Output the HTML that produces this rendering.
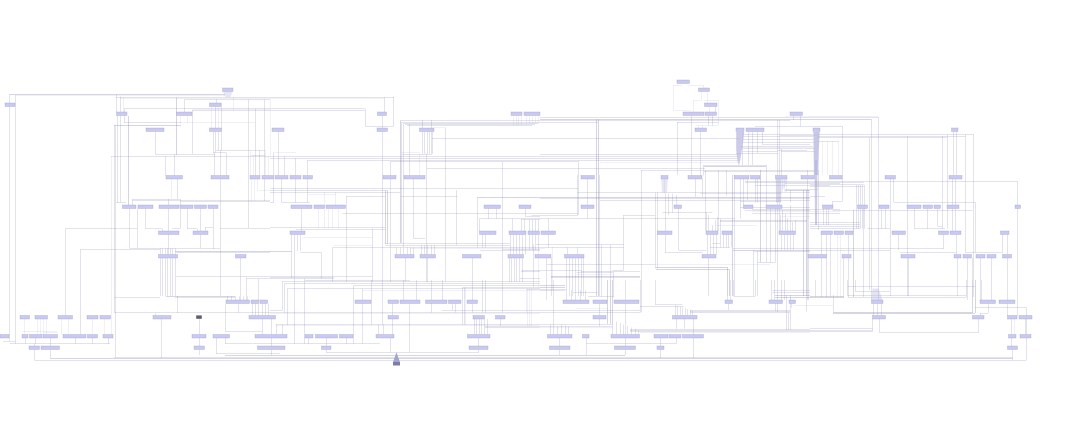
<!DOCTYPE html><html><head><meta charset="utf-8"><title>diagram</title><style>html,body{margin:0;padding:0;background:#fff;font-family:"Liberation Sans",sans-serif}svg{display:block}</style></head><body>
<svg width="1080" height="422" viewBox="0 0 1080 422">
<rect width="1080" height="422" fill="#ffffff"/>
<path d="M15.5 95.5L225 95.5M123.5 97.5L123.5 112M120 98.5L384 98.5M181 122.5L255 122.5M673.75 110.5L690 110.5M192.5 109.5L270 109.5M696 125.5L718 125.5M111.5 156L111.5 334.5M180.5 115.5L180.5 122.8M187.5 115.5L187.5 122.8M211.5 106.5L211.5 128M218.5 106.5L218.5 128M273.75 152.5L296 152.5M401 152.5L420 152.5M233.5 97L233.5 110M513.5 115.5L513.5 125.3M516.5 115.5L516.5 125.3M518.5 115.5L518.5 125.3M521.5 115.5L521.5 125.3M526.5 115.5L526.5 123.7M526.5 289.5L526.5 312.8M529.5 115.5L529.5 123.7M529.5 288.75L529.5 326.25M532.5 115.5L532.5 123.7M535.5 115.5L535.5 123.7M538.5 115.5L538.5 123.7M538.5 250L538.5 287M434 127.5L445 127.5M673.5 85L673.5 110.5M673.75 85.5L682 85.5M687.5 85.5L703.75 85.5M703.5 85L703.5 88M701.5 92L701.5 100.5M693 100.5L701.25 100.5M704 100.5L718 100.5M693.5 100.5L693.5 112M707.5 92L707.5 103M718.5 100L718.5 125.5M709.5 106.5L709.5 112M698.5 125.5L698.5 128M702.5 125.5L702.5 128M813 142.5L815 142.5M822.5 141.25L822.5 175.5M827.5 141.25L827.5 175.5M832.5 141.25L832.5 175.5M838.5 141.25L838.5 175.5M171.5 179L171.5 199M410 248.5L545 248.5M251.5 179L251.5 201M254.5 179L254.5 201M257.5 179L257.5 190M257.5 190.5L270 190.5M318.5 208.5L318.5 228.3M324.5 191.7L324.5 228.3M328.5 208.5L328.5 228.3M332.5 208.5L332.5 228.3M338.5 208.5L338.5 228.3M335.5 191.7L335.5 205M307.5 194.5L335.8 194.5M333.75 245.5L372.5 245.5M302.5 237.5L372.5 237.5M782 216.5L810 216.5M664.5 179L664.5 193.75M782.5 179L782.5 192M784.5 179L784.5 192M786.5 179L786.5 192M715.8 225.5L756.7 225.5M655 264.5L770 264.5M837.5 234.5L837.5 297M840.5 234.5L840.5 297M24.5 319L24.5 334.5M37.5 319L37.5 334.5M40.5 319L40.5 334.5M43.5 319L43.5 334.5M46.5 319L46.5 334.5M61.5 319L61.5 334.5M68.5 319L68.5 334.5M92.5 319L92.5 334.5M22 331.5L57 331.5M44 332.5L58 332.5M640 332.5L810 332.5M265.5 150.5L265.5 175.5M268.5 155.8L268.5 175.5M246.5 276.25L246.5 278.3M362.5 290.5L540 290.5M276 325.5L540 325.5M465.5 287.5L465.5 324.5M527.5 288.75L527.5 326.25M531.5 288.75L531.5 326.25M540 327.5L612.5 327.5M597 292.5L598 292.5M576 308.5L608 308.5M270 313.5L540 313.5M1014.5 319L1014.5 334.5M250.5 150.5L250.5 175.5M253.5 155.8L253.5 175.5M419.5 154L419.5 175.5M741 147.5L813 147.5M785 116.5L878 116.5M752 211.5L840 211.5M793.3 305.5L833 305.5M576.7 274.5L613.3 274.5M552.5 246.7L552.5 290M600 162.5L738 162.5M270.5 99.5L270.5 155.8" stroke="#8080b4" stroke-opacity="0.12" stroke-width="1" fill="none"/>
<path d="M9.5 94.3L9.5 341M15.5 95L15.5 343.75M116.5 94.5L116.5 112M120.5 96.5L120.5 112M120.5 115.5L120.5 202.5M116 97.5L394 97.5M184.5 99.5L270 99.5M184.5 99.5L184.5 112M124 108.5L365 108.5M124.5 108.75L124.5 122.8M124 122.5L181 122.5M401.7 122.5L598 122.5M677 122.5L718.75 122.5M192.5 110.5L365 110.5M407 125.5L532 125.5M114.5 125.5L114.5 313M115.5 125.5L115.5 357.5M117.5 115.5L117.5 202.5M155.5 131.5L155.5 154M155.5 313L155.5 315.5M155 154.5L215 154.5M401.7 154.5L431.7 154.5M540 154.5L738 154.5M192.5 110L192.5 154M180.5 199L180.5 228.75M187.5 208.5L187.5 228.75M215.5 106.5L215.5 128M215.5 131.5L215.5 152.5M218.5 131.5L218.5 150.5M221.5 103L221.5 150.5M213.5 131.5L213.5 152.5M213.5 208.5L213.5 249M216.5 99L216.5 103M216.5 338L216.5 353.75M216 150.5L265 150.5M777.5 150.5L807 150.5M213 152.5L226 152.5M248.5 99.5L248.5 228M255.5 108.75L255.5 175.5M255.5 303.5L255.5 315.5M264.5 99.5L264.5 201M259.5 150.5L259.5 175.5M111 156.5L738 156.5M165.5 156.25L165.5 175.5M165.5 248.25L165.5 254.5M165.5 258L165.5 296M174.5 154L174.5 175.5M226.5 152.5L226.5 175.5M393.5 97.1L393.5 126M365 126.5L393.75 126.5M755 126.5L842.5 126.5M365.5 108.75L365.5 126M384.5 97.1L384.5 112M382.5 115.5L382.5 128M382.5 131.5L382.5 324.5M278.5 131.5L278.5 175.5M400 120.5L790 120.5M403.7 123.5L538 123.5M405 124.5L535 124.5M400.5 247.5L400.5 254.5M401.5 122.3L401.5 243M403.5 123.5L403.5 247M403.5 247.5L403.5 254.5M403.5 280L403.5 300M513.5 234.5L513.5 254.5M516.5 234.5L516.5 254.5M516.5 258L516.5 282M521.5 219.5L521.5 231M529.5 219.5L529.5 231M529.5 234.5L529.5 250M532.5 219.5L532.5 231M532.5 234.5L532.5 250M535.5 219.5L535.5 231M535.5 234.5L535.5 250M538.5 219.5L538.5 231M538.5 234.5L538.5 250M422.5 120L422.5 128M422.5 131.5L422.5 154M424.5 131.5L424.5 154M424.5 245.3L424.5 254.5M427.5 131.5L427.5 154M427.5 245.3L427.5 254.5M427.5 258L427.5 282M429.5 131.5L429.5 154M432.5 131.5L432.5 154M431.5 120L431.5 128M431.5 131.5L431.5 154M431.5 245.3L431.5 254.5M431.5 280L431.5 312.5M426.5 154L426.5 282M445.5 127.5L445.5 282M431.75 138.5L740 138.5M270 158.5L738 158.5M307.5 160.5L738 160.5M390 161.5L578.75 161.5M273.5 152.5L273.5 202.5M284.5 156.25L284.5 175.5M284.5 283.3L284.5 312.8M295.5 158L295.5 175.5M295.5 179L295.5 202.5M307.5 160L307.5 175.5M307.5 179L307.5 202.5M502.5 161.75L502.5 312.5M390.5 161.75L390.5 282M390.5 338L390.5 352.5M426.75 168.5L705 168.5M540 117.5L878 117.5M578.5 161.7L578.5 215M578.5 258L578.5 296M641 170.5L815 170.5M704 171.5L815 171.5M677.5 122L677.5 175M677.5 305.8L677.5 315.5M691.5 116L691.5 175.5M700.5 131.5L700.5 175.5M703.5 165L703.5 175.5M693.5 319L693.5 358M707.5 234.5L707.5 254.5M718.5 170L718.5 231M708.5 115.5L708.5 125.5M708.5 215L708.5 231M708.5 258L708.5 296M712.5 115.5L712.5 125.5M712.5 225L712.5 231M715.5 106.5L715.5 112M715.5 220L715.5 231M702.5 179L702.5 197M793.5 116L793.5 120M793.5 234.5L793.5 250M800.5 116L800.5 126.25M777.5 120L777.5 312M779.5 120L779.5 231M748.5 131.5L748.5 165M752.5 131.5L752.5 165M757.5 131.5L757.5 153M757.5 179L757.5 202.5M757.5 251.25L757.5 296M762.5 131.5L762.5 144.5M762.5 144.5L810 144.5M742.5 148.5L815 148.5M742.5 151.5L777.5 151.5M781 151.5L815 151.5M736 153.5L778 153.5M742.5 131.5L742.5 165M703.75 165.5L766 165.5M766.5 165L766.5 205M766.5 208.5L766.5 262.5M780 135.5L817 135.5M743 142.5L813 142.5M781.5 148.75L781.5 175.5M781.5 234.5L781.5 250M781.5 280L781.5 300M878.5 117L878.5 300M871.5 119.5L871.5 300M842.5 126.25L842.5 201.25M743 134.5L813 134.5M817 134.5L974 134.5M743 136.5L813 136.5M817 136.5L965.5 136.5M817 137.5L947 137.5M869.5 137.5L869.5 290M907.5 136.25L907.5 296M942.5 136.25L942.5 228.75M947.5 134.5L947.5 228.75M953.5 131.5L953.5 175.5M956.5 131.5L956.5 175.5M956.5 234.5L956.5 254.5M965.5 134.5L965.5 252.5M973.5 134.5L973.5 297M817 141.5L838.75 141.5M832.5 201.25L832.5 205M815.5 280L815.5 296.25M116 202.5L126 202.5M270 202.5L273.75 202.5M281.75 202.5L310 202.5M893.75 202.5L975 202.5M132.5 199.5L180 199.5M132.5 200.5L270 200.5M600 200.5L810 200.5M180 201.5L270 201.5M740 201.5L781 201.5M832.5 201.5L842.5 201.5M132.5 199L132.5 205M177.5 179L177.5 199M177.5 296L177.5 313M220.5 150.5L220.5 175.5M220.5 179L220.5 296M168.5 199L168.5 254.5M129.5 208.5L129.5 248.25M137.5 208.5L137.5 248.25M129.5 248.5L220 248.5M733 248.5L943.75 248.5M65.5 228.5L137 228.5M145.5 228.5L162 228.5M172 228.5L180 228.5M187 228.5L197 228.5M220 228.5L270 228.5M810 228.5L860 228.5M867.5 228.5L890 228.5M914.5 228.5L945 228.5M65.5 228.75L65.5 315.5M80.5 249.5L160 249.5M502.5 249.5L540 249.5M80.5 249.25L80.5 334.5M145.5 208.5L145.5 228.75M162.5 228.75L162.5 231M162.5 248.25L162.5 254.5M162.5 258L162.5 296M197.5 228.75L197.5 231M200.5 208.5L200.5 231M200.5 234.5L200.5 248.25M205 227.5L213 227.5M270 227.5L385 227.5M205.5 227.5L205.5 231M270 190.5L387.5 190.5M753.75 251.5L810 251.5M176 252.5L270 252.5M300 252.5L321.25 252.5M665 252.5L702.5 252.5M900 252.5L956.25 252.5M965.5 252.5L1002.5 252.5M160.5 248.25L160.5 254.5M160.5 258L160.5 296M167.5 248.25L167.5 254.5M167.5 258L167.5 296M170.5 248.25L170.5 254.5M170.5 258L170.5 296M172.5 248.25L172.5 254.5M172.5 258L172.5 296M175.5 248.25L175.5 254.5M175.5 258L175.5 296M176.25 276.5L372.5 276.5M240.5 258L240.5 300M270 188.5L578 188.5M270 192.5L400 192.5M577.5 192.5L810 192.5M346 196.5L385 196.5M401 196.5L457.5 196.5M810 196.5L825 196.5M477.5 197L477.5 247.5M281.5 179L281.5 202.5M301.5 208.5L301.5 231M332.5 247.5L332.5 282M296 229.5L385 229.5M346.5 196.25L346.5 282M346.5 338L346.5 343.75M342.5 213.5L578 213.5M752 213.5L840 213.5M372.5 228.75L372.5 282M413.5 179L413.5 238.75M413.5 247.5L413.5 254.5M456.5 190L456.5 245M385 243.5L510 243.5M712.5 243.5L720 243.5M385 245.5L510 245.5M332.5 247.5L623.75 247.5M710 247.5L730 247.5M413.75 238.5L425 238.5M396.5 247.5L396.5 254.5M407.5 247.5L407.5 254.5M410.5 247.5L410.5 254.5M421.5 245.3L421.5 254.5M434.5 245.3L434.5 254.5M405.5 258L405.5 282M472.5 258L472.5 300M472.5 303.5L472.5 312.5M291.5 234.5L291.5 278M294.5 234.5L294.5 278M294.5 278.75L294.5 343.75M297.5 234.5L297.5 251M300.5 234.5L300.5 251M321.5 252.5L321.5 278.75M270 277.5L333.75 277.5M551 277.5L640 277.5M246.7 278.5L333.75 278.5M520 278.5L540 278.5M305 280.5L410 280.5M488.5 208.5L488.5 218.75M496.5 208.5L496.5 218.75M479.5 218.5L735 218.5M479.5 218.75L479.5 231M479.5 319L479.5 334.5M512.5 218.75L512.5 231M525.5 208.5L525.5 216M525.5 234.5L525.5 254.5M525 216.5L540 216.5M521 219.5L540 219.5M524.5 219.5L524.5 231M482.5 234.5L482.5 247.5M482.5 280L482.5 312.5M485.5 234.5L485.5 247.5M485.5 280L485.5 312.5M510.5 234.5L510.5 254.5M519.5 234.5L519.5 254.5M519.5 258L519.5 282M522.5 234.5L522.5 254.5M522.5 258L522.5 282M480 250.5L540 250.5M678.75 250.5L706.25 250.5M810 250.5L890 250.5M509.5 258L509.5 282M511.5 258L511.5 282M514.5 258L514.5 282M521 271.5L540 271.5M581 271.5L640 271.5M599.5 175L599.5 296M599.5 303.5L599.5 315.5M599.5 319L599.5 326.25M577.5 175L577.5 215M577.5 247.5L577.5 254.5M531.7 215.5L578 215.5M623.75 215.5L655 215.5M587.5 179L587.5 205M587.5 208.5L587.5 218.75M540 198.5L810 198.5M623.5 215L623.5 270M623.5 324.5L623.5 334.5M521.7 270.5L581.7 270.5M612.5 270.5L623.75 270.5M641.5 170.2L641.5 312.5M655.5 192.5L655.5 268.75M655.5 280L655.5 304.2M657.5 192.5L657.5 268.75M727.5 296L727.5 300M665.5 193.75L665.5 231M665.5 234.5L665.5 252.5M668.5 193.75L668.5 215M672.5 193.75L672.5 212.5M662.5 212.5L712.5 212.5M678.5 208.5L678.5 250M706.5 212.5L706.5 231M676.5 195L676.5 205M676.5 319L676.5 328.75M676.5 338L676.5 343.75M695.5 179L695.5 197M705.5 170L705.5 231M726.5 170L726.5 196M726.5 234.5L726.5 247.5M734.5 175L734.5 296M740 207.5L810 207.5M745 210.5L810 210.5M832.5 210.5L972.5 210.5M740.5 179L740.5 218.75M743.5 179L743.5 205M747.5 179L747.5 200M755.5 179L755.5 202.5M755.5 280L755.5 296.25M776.5 179L776.5 202.5M778.5 179L778.5 202.5M780.5 179L780.5 202.5M780.5 215L780.5 231M782.5 210L782.5 231M784.5 234.5L784.5 250M784.5 280L784.5 300M786.5 295L786.5 330M720 220.5L807 220.5M720 221.5L807 221.5M546.7 264.5L655 264.5M720.5 218.75L720.5 247.5M717.5 217L717.5 231M723.5 234.5L723.5 247.5M728.5 234.5L728.5 247.5M728.5 303.5L728.5 310M731.5 234.5L731.5 247.5M710.5 234.5L710.5 254.5M713.5 234.5L713.5 254.5M716.5 234.5L716.5 254.5M785.5 213.75L785.5 231M787.5 218L787.5 231M787.5 234.5L787.5 250M790.5 190L790.5 202.5M790.5 205L790.5 231M790.5 234.5L790.5 250M790.5 295L790.5 330M792.5 222L792.5 231M795.5 220L795.5 231M753.5 250L753.5 296M770.5 208.5L770.5 262.5M775.5 208.5L775.5 262.5M775.5 303.5L775.5 311.3M757.5 262.5L775 262.5M745 182.5L863.75 182.5M755 185.5L830 185.5M806.5 296.7L806.5 311.7M808.5 190L808.5 300M566.5 258L566.5 300M569.5 258L569.5 296M572.5 258L572.5 296M575.5 258L575.5 300M581.5 258L581.5 296M583.5 258L583.5 296M567.5 247.5L567.5 254.5M548.5 218.75L548.5 231M548.5 234.5L548.5 247.5M551.5 258L551.5 296M536 244.5L624 244.5M546.5 258L546.5 300M745 181.5L1017.5 181.5M1017.5 181.25L1017.5 315.5M810 184.5L863.75 184.5M810 186.5L863.75 186.5M856.5 185L856.5 228.75M858.5 185L858.5 228.75M860.5 185L860.5 228.75M862.5 185L862.5 228.75M864.5 185L864.5 228.75M890.5 179L890.5 296M893.5 179L893.5 202M975.5 202L975.5 252.5M881.5 208.5L881.5 228.75M881.5 303.5L881.5 315.5M885.5 208.5L885.5 228.75M943.5 234.5L943.5 248.75M898.5 234.5L898.5 250M914.5 208.5L914.5 228.75M927.5 208.5L927.5 228.75M937.5 208.5L937.5 226M810 226.5L860 226.5M937.5 226.5L942 226.5M952.5 179L952.5 205M952.5 208.5L952.5 231M955.5 179L955.5 205M955.5 208.5L955.5 231M957.5 258L957.5 296M1002.5 234.5L1002.5 252.5M1007.5 234.5L1007.5 254.5M1007.5 258L1007.5 300M1007.5 303.5L1007.5 315.5M967.5 258L967.5 300M972.5 258L972.5 280M980.5 258L980.5 300M980.5 313L980.5 315.5M991.5 258L991.5 300M908.5 258L908.5 296M821.5 234.5L821.5 297M826.5 208.5L826.5 225M826.5 234.5L826.5 297M830.5 234.5L830.5 297M843.5 258L843.5 297.5M848.5 234.5L848.5 254.5M848.5 258L848.5 297M810 222.5L860 222.5M810 224.5L860 224.5M823.5 208.5L823.5 225M828.5 208.5L828.5 225M863.5 208.5L863.5 297M3 341.5L15.5 341.5M9.5 343.5L110 343.5M225 343.5L380 343.5M586.25 343.5L676.25 343.5M114.5 297.5L160 297.5M175 297.5L235 297.5M847.5 297.5L966 297.5M114.5 312.5L640 312.5M690 312.5L790 312.5M588 296.5L613.3 296.5M733.75 296.5L755 296.5M235.5 296.25L235.5 300M161.5 319L161.5 358M199.5 319L199.5 334.5M199.5 338L199.5 346M199.5 349.5L199.5 355M92.5 338L92.5 343.75M225 331.5L262.5 331.5M630 331.5L872.5 331.5M879.5 332.5L978.75 332.5M25.5 338L25.5 343.75M35.5 338L35.5 343.75M50.5 338L50.5 346M50.5 349.5L50.5 358.75M75.5 338L75.5 343.75M108.5 338L108.5 343.75M34.5 343.75L34.5 346M34.5 349.5L34.5 360M34.25 360.5L1026.25 360.5M113.75 357.5L1012.5 357.5M227.5 296.25L227.5 300M231.5 296.25L231.5 300M239.5 296.25L239.5 300M243.5 296.25L243.5 300M247.5 296.25L247.5 300M225.5 303.5L225.5 331.25M225.5 338L225.5 343.75M238.5 303.5L238.5 312.5M252.5 303.5L252.5 315.5M258.5 279L258.5 300M258.5 303.5L258.5 315.5M262.5 303.5L262.5 315.5M262.5 319L262.5 334.5M265.5 303.5L265.5 315.5M268.5 303.5L268.5 315.5M216.25 353.5L280 353.5M246.5 278.3L246.5 300M282 281.5L540 281.5M284.7 283.5L540 283.5M353.75 285.5L540 285.5M287.5 288.5L540 288.5M540 290.5L565 290.5M772.5 290.5L810 290.5M270 310.5L282 310.5M441.7 310.5L640 310.5M690 310.5L790 310.5M276 324.5L612.5 324.5M282.5 281.7L282.5 310.8M282.5 324.5L282.5 334.5M287.5 288.3L287.5 325M304.5 278.75L304.5 343.75M353.5 285.5L353.5 343.75M362.5 288.75L362.5 343.75M371.5 280L371.5 324.5M378.5 324.5L378.5 334.5M383.5 324.5L383.5 334.5M392.5 303.5L392.5 315.5M392.5 319L392.5 334.5M409.5 124L409.5 175.5M409.5 303.5L409.5 352.5M416.5 280L416.5 300M442.5 280L442.5 300M452.5 303.5L452.5 310M455.5 303.5L455.5 312.5M462.5 287.5L462.5 324.5M464.5 287.5L464.5 324.5M462.5 287.5L540 287.5M485 326.5L612.5 326.5M485 327.5L540 327.5M474.5 319L474.5 334.5M476.5 319L476.5 334.5M481.5 319L481.5 334.5M484.5 319L484.5 334.5M487.5 319L487.5 334.5M500.5 319L500.5 326.25M478.5 338L478.5 346M478.5 349.5L478.5 352.5M308.5 338L308.5 343.75M326.5 338L326.5 346M326.5 349.5L326.5 352.5M326.25 352.5L478.75 352.5M276.5 324.5L276.5 334.5M271.5 319L271.5 334.5M271.5 338L271.5 346M271.5 349.5L271.5 355M553.5 280L553.5 334.5M571.5 290L571.5 300M580.5 290L580.5 300M585.5 290L585.5 300M610.5 245L610.5 280M612.5 323.75L612.5 334.5M625.5 280L625.5 300M625.5 303.5L625.5 334.5M625.5 338L625.5 346M625.5 349.5L625.5 355M640.5 280L640.5 312.5M640 306.5L683.75 306.5M655 304.5L682.5 304.5M675.5 305L675.5 315.5M680.5 306.6L680.5 315.5M682.5 307.4L682.5 315.5M685.5 308.2L685.5 315.5M687.5 309L687.5 315.5M690.5 309.8L690.5 315.5M692.5 310.6L692.5 315.5M690 311.5L790 311.5M730.5 280L730.5 300M733.5 280L733.5 296.25M847.5 295.5L966 295.5M573 292.5L597 292.5M772.5 292.5L810 292.5M771.5 280L771.5 300M774.5 280L774.5 300M791.5 303.5L791.5 307.5M630 329.5L810 329.5M630 330.5L872.5 330.5M616.5 321.5L616.5 334.5M620.5 323L620.5 334.5M627.5 326L627.5 334.5M631.5 327.5L631.5 334.5M635.5 329L635.5 334.5M638.5 330.5L638.5 334.5M550.5 324.5L550.5 334.5M557.5 326.5L557.5 334.5M561.5 324.5L561.5 334.5M565.5 325.5L565.5 334.5M568.5 326.5L568.5 334.5M684.5 319L684.5 328.75M586.5 338L586.5 355M660.5 338L660.5 346M660.5 349.5L660.5 358M559.5 338L559.5 346M559.5 349.5L559.5 355M788.5 312.5L788.5 330M833.5 295L833.5 312M980 313.5L988 313.5M847.5 286.5L975 286.5M855 291.5L890 291.5M847.5 280L847.5 295.5M855.5 280L855.5 291.25M966.5 280L966.5 297.5M873.5 303.5L873.5 315.5M877.5 303.5L877.5 315.5M872.5 319L872.5 331.25M879.5 319L879.5 332.5M978.5 319L978.5 332.5M810 328.5L872.5 328.5M981.5 280L981.5 300M988.5 303.5L988.5 313M1011.5 319L1011.5 334.5M1011.5 338L1011.5 346M975 307.5L1026.25 307.5M1026.5 307.5L1026.5 360M1025.5 319L1025.5 334.5M1012.5 349.5L1012.5 360M214.5 152.5L214.5 175.5M250.8 155.5L265 155.5M743 139.5L813 139.5M741 146.5L813 146.5M807.5 170L807.5 300M818.5 170L818.5 230M785 183.5L840 183.5M785 189.5L818 189.5M700 193.5L781 193.5M752 209.5L840 209.5M576.7 272.5L613.3 272.5M533.5 244.2L533.5 287M601.5 245L601.5 296.7M613.5 272.5L613.5 297.5M526.7 289.5L566.7 289.5" stroke="#7e7eb2" stroke-opacity="0.22" stroke-width="1" fill="none"/>
<path d="M9.5 94.5L225 94.5M176.5 97.5L176.5 155M114 125.5L181 125.5M128.5 116L128.5 205M400.5 120.9L400.5 243M540 119.5L871.5 119.5M596.5 119.5L596.5 296M598.5 119.5L598.5 296M703.75 166.5L766 166.5M815.5 160L815.5 225M816.5 160L816.5 225M785 190.5L810 190.5M175 251.5L291.5 251.5M551 276.5L640 276.5M477.5 197.5L810 197.5M385.5 190.5L385.5 243.75M387.5 190.5L387.5 243.75M733 250.5L810 250.5M656 267.5L727.5 267.5M656 269.5L729 269.5M727.5 267.5L727.5 296M729.5 269.3L729.5 296M732.5 175L732.5 296M803.5 190L803.5 296M806.5 190L806.5 296M975.5 280L975.5 313M972.5 280L972.5 313M853.5 210L853.5 297M775 297.5L843.75 297.5M833 312.5L972.5 312.5M166 296.5L235 296.5M810 296.5L843.75 296.5M50.5 358.5L1012.5 358.5M540 285.5L565 285.5M540 287.5L565 287.5M225 355.5L625 355.5M607.5 280L607.5 323.75M610.5 280L610.5 323.75M612.5 280L612.5 323.75M775 295.5L810 295.5M833 313.5L975 313.5M760.5 170L760.5 262" stroke="#7e7eae" stroke-opacity="0.33" stroke-width="1" fill="none"/>
<path d="M104.5 319L104.5 334.5" stroke="#e09060" stroke-opacity="0.14" stroke-width="1" fill="none"/>
<g fill="#b0b0dc" stroke="none">
<polygon points="223,91.5 232.5,91.5 230.5,97.3 225.5,97.3" fill-opacity="0.3"/>
<polygon points="736.2,131.9 744.2,131.9 743,143 740.3,160 739,165.5 737.6,161 736.2,150" fill-opacity="0.65"/>
<polygon points="813.3,131.9 819.7,131.9 818.8,150 818.3,175 813.9,175 813.6,150" fill-opacity="0.7"/>
<polygon points="813.9,175 818.3,175 817.6,205 817,225 815.3,225 814.6,205" fill-opacity="0.22"/>
<polygon points="661.2,179.3 667.8,179.3 667,192.6 662,192.6" fill-opacity="0.32"/>
<polygon points="775.5,179.3 786.8,179.3 786,185 782,190.5 781,202 776.2,202" fill-opacity="0.22"/>
<polygon points="872.5,288.5 878.5,288.5 882.5,300 871.5,300" fill-opacity="0.35"/>
</g>
<polygon points="396.4,352.2 400,362 393.1,362" fill="#a4a4cc"/>

<g fill="#c9c9f5" stroke="#9696b0" stroke-opacity="0.6" stroke-width="0.5">
<rect x="677" y="80" width="12.5" height="3.5"/>
<rect x="222.5" y="88" width="10.5" height="3.5"/>
<rect x="698.5" y="88" width="11" height="3.5"/>
<rect x="5" y="103" width="10" height="3.5"/>
<rect x="209.5" y="103" width="11.5" height="3.5"/>
<rect x="704.5" y="103" width="12.5" height="3.5"/>
<rect x="116.5" y="112" width="10.5" height="3.5"/>
<rect x="176.5" y="112" width="15.5" height="3.5"/>
<rect x="377.5" y="112" width="9" height="3.5"/>
<rect x="511" y="112" width="11" height="3.5"/>
<rect x="524" y="112" width="16" height="3.5"/>
<rect x="683" y="112" width="21" height="3.5"/>
<rect x="705" y="112" width="11.5" height="3.5"/>
<rect x="790" y="112" width="12.5" height="3.5"/>
<rect x="146" y="128" width="18" height="3.5"/>
<rect x="209.5" y="128" width="12" height="3.5"/>
<rect x="272" y="128" width="12" height="3.5"/>
<rect x="377" y="128" width="10.5" height="3.5"/>
<rect x="419.5" y="128" width="14.5" height="3.5"/>
<rect x="695" y="128" width="11.5" height="3.5"/>
<rect x="736" y="128" width="8" height="3.5"/>
<rect x="746" y="128" width="18" height="3.5"/>
<rect x="813" y="128" width="7" height="3.5"/>
<rect x="951.5" y="128" width="6.5" height="3.5"/>
<rect x="166" y="175.5" width="16.5" height="3.5"/>
<rect x="211" y="175.5" width="18" height="3.5"/>
<rect x="250" y="175.5" width="10" height="3.5"/>
<rect x="262" y="175.5" width="11.5" height="3.5"/>
<rect x="275" y="175.5" width="13" height="3.5"/>
<rect x="290" y="175.5" width="11" height="3.5"/>
<rect x="303" y="175.5" width="9.5" height="3.5"/>
<rect x="383" y="175.5" width="13" height="3.5"/>
<rect x="404" y="175.5" width="21" height="3.5"/>
<rect x="581" y="175.5" width="13.5" height="3.5"/>
<rect x="661" y="175.5" width="7" height="3.5"/>
<rect x="688" y="175.5" width="14" height="3.5"/>
<rect x="734.5" y="175.5" width="14.5" height="3.5"/>
<rect x="750.5" y="175.5" width="9.5" height="3.5"/>
<rect x="775.5" y="175.5" width="11.5" height="3.5"/>
<rect x="801" y="175.5" width="13.5" height="3.5"/>
<rect x="829.5" y="175.5" width="12.5" height="3.5"/>
<rect x="885" y="175.5" width="10.5" height="3.5"/>
<rect x="949" y="175.5" width="13" height="3.5"/>
<rect x="122.5" y="205" width="13.5" height="3.5"/>
<rect x="138" y="205" width="15" height="3.5"/>
<rect x="159" y="205" width="20" height="3.5"/>
<rect x="180" y="205" width="13" height="3.5"/>
<rect x="194.5" y="205" width="12" height="3.5"/>
<rect x="208" y="205" width="10" height="3.5"/>
<rect x="291" y="205" width="21" height="3.5"/>
<rect x="314" y="205" width="10.5" height="3.5"/>
<rect x="326" y="205" width="19.5" height="3.5"/>
<rect x="484" y="205" width="16.5" height="3.5"/>
<rect x="519" y="205" width="12" height="3.5"/>
<rect x="581" y="205" width="13" height="3.5"/>
<rect x="674" y="205" width="7.5" height="3.5"/>
<rect x="743.5" y="205" width="9.5" height="3.5"/>
<rect x="766" y="205" width="16" height="3.5"/>
<rect x="822.5" y="205" width="10.5" height="3.5"/>
<rect x="857.5" y="205" width="10" height="3.5"/>
<rect x="879" y="205" width="10" height="3.5"/>
<rect x="907" y="205" width="14" height="3.5"/>
<rect x="923" y="205" width="9.5" height="3.5"/>
<rect x="934" y="205" width="6.5" height="3.5"/>
<rect x="947" y="205" width="12" height="3.5"/>
<rect x="1015" y="205" width="5.5" height="3.5"/>
<rect x="158.5" y="231" width="20.5" height="3.5"/>
<rect x="193" y="231" width="15" height="3.5"/>
<rect x="290" y="231" width="15" height="3.5"/>
<rect x="479.5" y="231" width="16.5" height="3.5"/>
<rect x="509" y="231" width="17" height="3.5"/>
<rect x="528" y="231" width="11.5" height="3.5"/>
<rect x="541" y="231" width="14.5" height="3.5"/>
<rect x="657.5" y="231" width="14.5" height="3.5"/>
<rect x="706" y="231" width="12" height="3.5"/>
<rect x="722" y="231" width="10" height="3.5"/>
<rect x="779" y="231" width="16.5" height="3.5"/>
<rect x="821" y="231" width="11.5" height="3.5"/>
<rect x="834" y="231" width="9.5" height="3.5"/>
<rect x="845" y="231" width="8" height="3.5"/>
<rect x="892" y="231" width="13.5" height="3.5"/>
<rect x="938.5" y="231" width="10" height="3.5"/>
<rect x="950" y="231" width="11" height="3.5"/>
<rect x="1000.5" y="231" width="8.5" height="3.5"/>
<rect x="158.5" y="254.5" width="19" height="3.5"/>
<rect x="235.5" y="254.5" width="10.5" height="3.5"/>
<rect x="395" y="254.5" width="19" height="3.5"/>
<rect x="420" y="254.5" width="15.5" height="3.5"/>
<rect x="462.5" y="254.5" width="18.5" height="3.5"/>
<rect x="508" y="254.5" width="15.5" height="3.5"/>
<rect x="535" y="254.5" width="16" height="3.5"/>
<rect x="564.5" y="254.5" width="19.5" height="3.5"/>
<rect x="702" y="254.5" width="14" height="3.5"/>
<rect x="808" y="254.5" width="18.5" height="3.5"/>
<rect x="842" y="254.5" width="9" height="3.5"/>
<rect x="901" y="254.5" width="14" height="3.5"/>
<rect x="954" y="254.5" width="7" height="3.5"/>
<rect x="963" y="254.5" width="8.5" height="3.5"/>
<rect x="976" y="254.5" width="9" height="3.5"/>
<rect x="987" y="254.5" width="9" height="3.5"/>
<rect x="1002.5" y="254.5" width="9" height="3.5"/>
<rect x="226" y="300" width="23.5" height="3.5"/>
<rect x="251" y="300" width="8" height="3.5"/>
<rect x="260" y="300" width="7.5" height="3.5"/>
<rect x="355" y="300" width="16" height="3.5"/>
<rect x="388" y="300" width="10.5" height="3.5"/>
<rect x="400" y="300" width="20" height="3.5"/>
<rect x="425.5" y="300" width="21.5" height="3.5"/>
<rect x="448.5" y="300" width="12.5" height="3.5"/>
<rect x="467" y="300" width="10.5" height="3.5"/>
<rect x="563" y="300" width="26" height="3.5"/>
<rect x="593" y="300" width="14" height="3.5"/>
<rect x="614" y="300" width="25" height="3.5"/>
<rect x="725" y="300" width="7.5" height="3.5"/>
<rect x="769" y="300" width="13.5" height="3.5"/>
<rect x="789" y="300" width="6.5" height="3.5"/>
<rect x="871.5" y="300" width="11.5" height="3.5"/>
<rect x="980" y="300" width="15.5" height="3.5"/>
<rect x="999" y="300" width="16" height="3.5"/>
<rect x="20" y="315.5" width="9.5" height="3.5"/>
<rect x="35" y="315.5" width="12.5" height="3.5"/>
<rect x="58" y="315.5" width="14.5" height="3.5"/>
<rect x="87" y="315.5" width="11" height="3.5"/>
<rect x="100" y="315.5" width="10.5" height="3.5"/>
<rect x="153" y="315.5" width="18" height="3.5"/>
<rect x="249" y="315.5" width="26.5" height="3.5"/>
<rect x="388" y="315.5" width="10.5" height="3.5"/>
<rect x="473" y="315.5" width="11.5" height="3.5"/>
<rect x="495.5" y="315.5" width="9.5" height="3.5"/>
<rect x="593" y="315.5" width="13" height="3.5"/>
<rect x="672.5" y="315.5" width="24.5" height="3.5"/>
<rect x="872.5" y="315.5" width="13" height="3.5"/>
<rect x="972.5" y="315.5" width="11.5" height="3.5"/>
<rect x="1007.5" y="315.5" width="9.5" height="3.5"/>
<rect x="1019" y="315.5" width="13" height="3.5"/>
<rect x="0" y="334.5" width="9" height="3.5"/>
<rect x="22" y="334.5" width="6" height="3.5"/>
<rect x="29.5" y="334.5" width="12.5" height="3.5"/>
<rect x="43" y="334.5" width="14.5" height="3.5"/>
<rect x="63" y="334.5" width="23" height="3.5"/>
<rect x="87.5" y="334.5" width="10" height="3.5"/>
<rect x="103" y="334.5" width="10" height="3.5"/>
<rect x="192" y="334.5" width="14" height="3.5"/>
<rect x="213" y="334.5" width="16.5" height="3.5"/>
<rect x="255" y="334.5" width="32" height="3.5"/>
<rect x="305" y="334.5" width="8" height="3.5"/>
<rect x="315.5" y="334.5" width="22" height="3.5"/>
<rect x="339.5" y="334.5" width="13.5" height="3.5"/>
<rect x="376" y="334.5" width="18" height="3.5"/>
<rect x="467.5" y="334.5" width="22.5" height="3.5"/>
<rect x="547.5" y="334.5" width="24.5" height="3.5"/>
<rect x="582.5" y="334.5" width="6.5" height="3.5"/>
<rect x="611" y="334.5" width="28.5" height="3.5"/>
<rect x="654" y="334.5" width="14" height="3.5"/>
<rect x="669" y="334.5" width="12" height="3.5"/>
<rect x="682.5" y="334.5" width="21" height="3.5"/>
<rect x="1008.5" y="334.5" width="7.5" height="3.5"/>
<rect x="1020" y="334.5" width="11" height="3.5"/>
<rect x="29" y="346" width="10.5" height="3.5"/>
<rect x="41" y="346" width="18.5" height="3.5"/>
<rect x="194" y="346" width="10.5" height="3.5"/>
<rect x="257.5" y="346" width="27.5" height="3.5"/>
<rect x="321.5" y="346" width="9.5" height="3.5"/>
<rect x="469" y="346" width="19" height="3.5"/>
<rect x="549.5" y="346" width="20.5" height="3.5"/>
<rect x="614.5" y="346" width="21" height="3.5"/>
<rect x="657" y="346" width="7" height="3.5"/>
<rect x="1007.5" y="346" width="10" height="3.5"/>
</g>
<rect x="196.2" y="315.4" width="5.6" height="3.4" fill="#5e5e70"/>
<rect x="393" y="362" width="7" height="3.5" fill="#7c7ca6"/>
</svg></body></html>
